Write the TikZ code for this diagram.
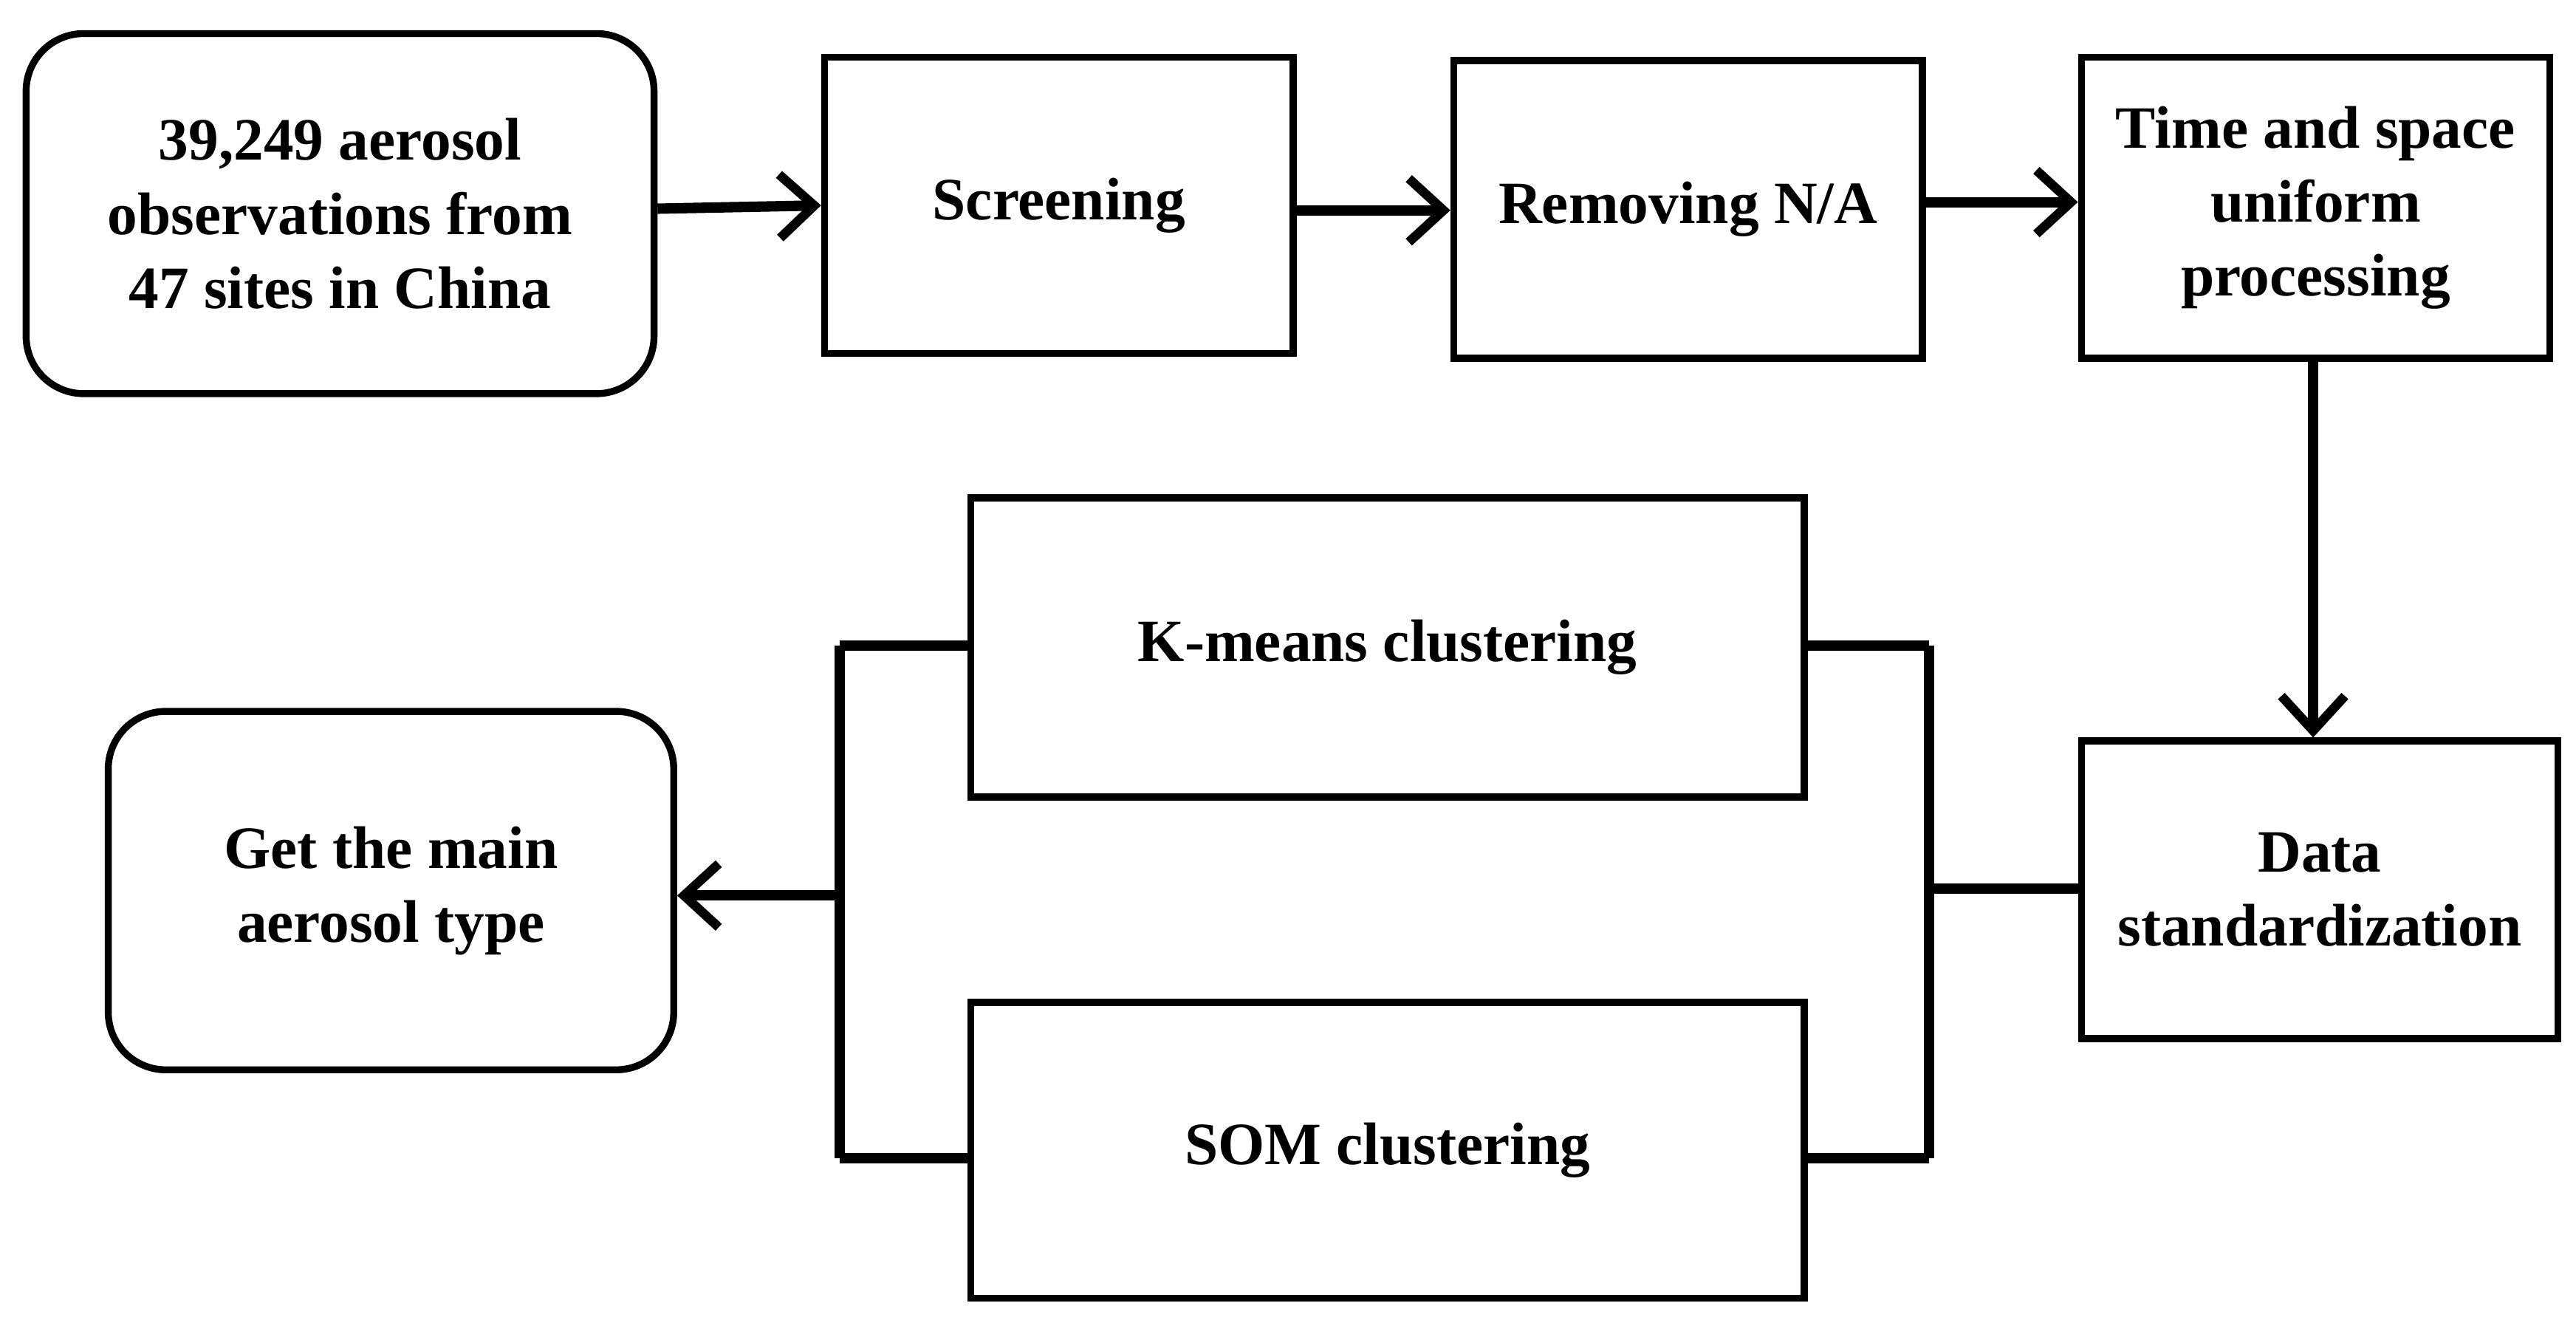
\documentclass[tikz,border=0pt]{standalone}
\usepackage{fontspec}
\setmainfont{Liberation Serif}
\usetikzlibrary{arrows.meta}
\begin{document}
\begin{tikzpicture}[x=0.01cm,y=-0.01cm,
  box/.style={draw,line width=1.2pt,align=center,font=\bfseries\fontsize{10.4}{12.8}\selectfont,inner sep=0pt},
  rbox/.style={box,rounded corners=0.35cm},
  conn/.style={line width=1.8pt},
  arr/.style={conn,-{Straight Barb[length=6pt,width=11pt,line width=1.6pt]}}]
\useasboundingbox (0,0) rectangle (1568,803);
\node[rbox,minimum width=3.82cm,minimum height=2.19cm] (src) at (207,130) {39,249 aerosol\\observations from\\47 sites in China};
\node[box,minimum width=2.85cm,minimum height=1.80cm] (scr) at (644.5,125) {Screening};
\node[box,minimum width=2.85cm,minimum height=1.81cm] (rem) at (1027.5,127.5) {Removing N/A};
\node[box,minimum width=2.85cm,minimum height=1.83cm] (tsp) at (1409.5,126.5) {Time and space\\uniform\\processing};
\node[box,minimum width=2.90cm,minimum height=1.81cm] (dat) at (1412,541.5) {Data\\standardization};
\node[box,minimum width=5.07cm,minimum height=1.82cm] (km) at (844.5,394) {K-means clustering};
\node[box,minimum width=5.07cm,minimum height=1.80cm] (som) at (844.5,700) {SOM clustering};
\node[rbox,minimum width=3.44cm,minimum height=2.18cm] (get) at (238,542) {Get the main\\aerosol type};
\draw[arr] (src.east|-0,127) -- (scr.west|-0,125);
\draw[arr] (scr.east|-0,128) -- (rem.west|-0,128);
\draw[arr] (rem.east|-0,123) -- (tsp.west|-0,123);
\draw[arr] (tsp.south-|1408,0) -- (dat.north-|1408,0);
\coordinate (rj) at (1174,541);
\coordinate (rt) at (1174,393);
\coordinate (rb) at (1174,705);
\coordinate (lt) at (511,393);
\coordinate (lb) at (511,705);
\coordinate (lm) at (511,545);
\draw[conn] (dat.west|-rj) -- (rj);
\draw[conn] (rt) -- (rb);
\draw[conn] (km.east|-rt) -- (rt);
\draw[conn] (som.east|-rb) -- (rb);
\draw[conn] (lt) -- (lb);
\draw[conn] (km.west|-lt) -- (lt);
\draw[conn] (som.west|-lb) -- (lb);
\draw[arr] (lm) -- (get.east|-lm);
\end{tikzpicture}
\end{document}
